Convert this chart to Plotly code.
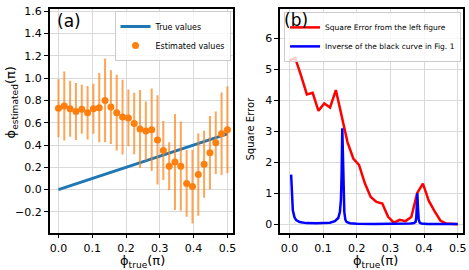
import plotly.graph_objects as go

# ---------------- data ----------------
phi_true = [0.0000, 0.0172, 0.0345, 0.0517, 0.0690, 0.0862, 0.1034, 0.1207, 0.1379, 0.1552,
            0.1724, 0.1897, 0.2069, 0.2241, 0.2414, 0.2586, 0.2759, 0.2931, 0.3103, 0.3276,
            0.3448, 0.3621, 0.3793, 0.3966, 0.4138, 0.4310, 0.4483, 0.4655, 0.4828, 0.5000]
true_values = list(phi_true)
estimated = [0.73, 0.75, 0.725, 0.70, 0.72, 0.69, 0.725, 0.735, 0.80, 0.74,
             0.69, 0.65, 0.643, 0.593, 0.543, 0.525, 0.537, 0.445, 0.351, 0.21,
             0.248, 0.21, 0.056, 0.027, 0.135, 0.227, 0.33, 0.42, 0.50, 0.537]
est_err = [0.26, 0.31, 0.25, 0.256, 0.22, 0.24, 0.225, 0.31, 0.375, 0.33,
           0.34, 0.335, 0.255, 0.275, 0.35, 0.265, 0.37, 0.40, 0.265, 0.215,
           0.43, 0.40, 0.30, 0.33, 0.37, 0.30, 0.33, 0.28, 0.37, 0.39]

square_error = [5.29, 5.36, 4.80, 4.19, 4.24, 3.66, 3.90, 3.77, 4.33, 3.45,
                2.65, 2.12, 1.91, 1.32, 0.88, 0.72, 0.67, 0.24, 0.05, 0.14,
                0.10, 0.23, 1.00, 1.31, 0.76, 0.42, 0.12, 0.02, 0.00, 0.00]

inv_x = [0.005, 0.007, 0.010, 0.015, 0.020, 0.030, 0.050, 0.080, 0.100, 0.120,
         0.135, 0.145, 0.150, 0.153, 0.155, 0.157, 0.159, 0.161, 0.163, 0.166,
         0.170, 0.180, 0.200, 0.250, 0.300, 0.340, 0.360, 0.370, 0.375, 0.377,
         0.379, 0.380, 0.382, 0.384, 0.387, 0.392, 0.410, 0.450, 0.500]
inv_y = [1.60, 0.90, 0.45, 0.22, 0.13, 0.07, 0.035, 0.03, 0.035, 0.05,
         0.10, 0.20, 0.40, 0.80, 1.60, 3.10, 2.20, 1.00, 0.40, 0.15,
         0.07, 0.03, 0.015, 0.01, 0.01, 0.015, 0.02, 0.04, 0.08, 0.25,
         0.70, 1.00, 0.50, 0.15, 0.05, 0.02, 0.01, 0.005, 0.005]

x_ticks = [0.0, 0.1, 0.2, 0.3, 0.4, 0.5]
ya_ticks = [-0.2, 0.0, 0.2, 0.4, 0.6, 0.8, 1.0, 1.2, 1.4, 1.6]
yb_ticks = [0, 1, 2, 3, 4, 5, 6]

W, H = 469, 270
FONT = "DejaVu Sans"

fig = go.Figure()

fig.add_trace(go.Scatter(
    x=phi_true, y=true_values, mode="lines", name="True values",
    line=dict(color="#1f77b4", width=3), xaxis="x", yaxis="y", legend="legend"))
fig.add_trace(go.Scatter(
    x=phi_true, y=estimated, mode="markers", name="Estimated values",
    marker=dict(color="#ff7f0e", size=7),
    error_y=dict(type="data", array=est_err, visible=True, width=0, thickness=2,
                 color="rgba(255,127,14,0.7)"),
    xaxis="x", yaxis="y", legend="legend"))

fig.add_trace(go.Scatter(
    x=phi_true, y=square_error, mode="lines", name="Square Error from the left figure",
    line=dict(color="#ff0000", width=2.5), xaxis="x2", yaxis="y2", legend="legend2"))
fig.add_trace(go.Scatter(
    x=inv_x, y=inv_y, mode="lines", name="Inverse of the black curve in Fig. 1",
    line=dict(color="#0000ff", width=2.5), xaxis="x2", yaxis="y2", legend="legend2"))

axis_common = dict(
    showline=True, mirror=True, linecolor="black", linewidth=1.5,
    showgrid=True, gridcolor="#d9d9d9", gridwidth=1.2, zeroline=False,
    ticks="outside", ticklen=4, tickwidth=1, tickcolor="black",
    tickfont=dict(family=FONT, size=11, color="black"))

fig.update_layout(
    width=W, height=H, margin=dict(l=0, r=0, t=0, b=0),
    paper_bgcolor="white", plot_bgcolor="white",
    font=dict(family=FONT, color="black"),
    xaxis=dict(domain=[50 / W, 235 / W], range=[-0.026, 0.518],
               tickvals=x_ticks, tickformat=".1f", anchor="y", **axis_common),
    yaxis=dict(domain=[1 - 232 / H, 1 - 5 / H], range=[-0.385, 1.62],
               tickvals=ya_ticks, tickformat=".1f", anchor="x", **axis_common),
    xaxis2=dict(domain=[282 / W, 466 / W], range=[-0.0275, 0.5157],
                tickvals=x_ticks, tickformat=".1f", anchor="y2", **axis_common),
    yaxis2=dict(domain=[1 - 232 / H, 1 - 5 / H], range=[-0.27, 6.95],
                tickvals=yb_ticks, anchor="x2", **axis_common),
    legend=dict(x=232 / W, y=1 - 7 / H, xanchor="right", yanchor="top",
                bgcolor="rgba(255,255,255,0.8)", bordercolor="#cccccc", borderwidth=1,
                font=dict(family=FONT, size=8), itemwidth=30, tracegroupgap=0),
    legend2=dict(x=464 / W, y=1 - 8 / H, xanchor="right", yanchor="top",
                 bgcolor="rgba(255,255,255,0.8)", bordercolor="#cccccc", borderwidth=1,
                 font=dict(family=FONT, size=7.5), itemwidth=30, tracegroupgap=0),
    showlegend=True,
)

annots = [
    dict(text="(a)", x=55 / W, y=1 - 17 / H, xanchor="left", yanchor="middle",
         font=dict(size=17)),
    dict(text="(b)", x=284 / W, y=1 - 16 / H, xanchor="left", yanchor="middle",
         font=dict(size=17)),
    dict(text="ϕ<sub>true</sub>(π)", x=143 / W, y=1 - 261 / H, xanchor="center",
         yanchor="middle", font=dict(size=13)),
    dict(text="ϕ<sub>true</sub>(π)", x=378 / W, y=1 - 261 / H, xanchor="center",
         yanchor="middle", font=dict(size=13)),
    dict(text="ϕ<sub>estimated</sub>(π)", x=12 / W, y=1 - 100 / H, xanchor="center",
         yanchor="middle", textangle=-90, font=dict(size=13)),
    dict(text="Square Error", x=252 / W, y=1 - 126 / H, xanchor="center",
         yanchor="middle", textangle=-90, font=dict(size=10)),
]
for a in annots:
    a.update(xref="paper", yref="paper", showarrow=False)
    a["font"].update(family=FONT, color="black")
fig.update_layout(annotations=annots)

# remove the browser's default 8px page margin so the figure sits at (0, 0)
fig.write_html("out.html",
               config={"displayModeBar": False},
               post_script="document.body.style.margin='0';document.body.style.overflow='hidden';")
